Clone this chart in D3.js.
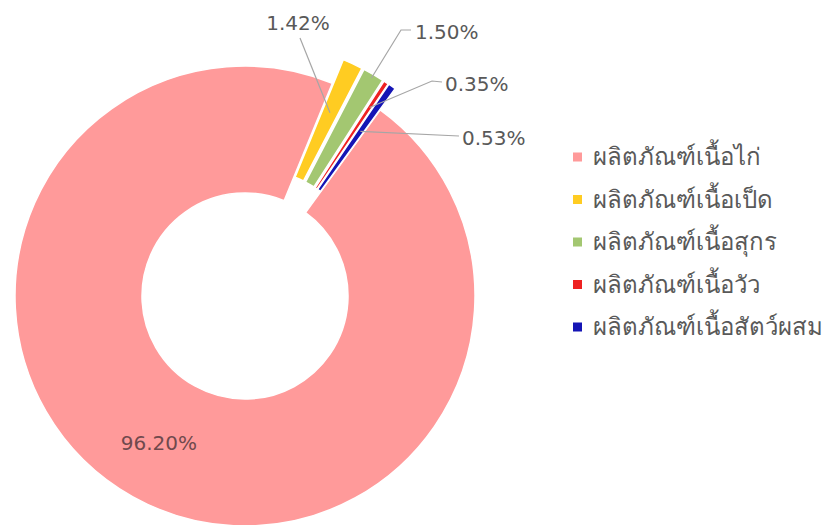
<!DOCTYPE html>
<html>
<head>
<meta charset="utf-8">
<script src="https://cdn.jsdelivr.net/npm/d3@7"></script>
<style>
    body { margin: 0; background: #fff; }
    svg text { font-family: "DejaVu Sans", "Noto Sans", sans-serif; }
</style>
</head>
<body>
<svg id="chart" width="830" height="525"></svg>
<script>
/* global d3 */

// data
let categories = [
    'ผลิตภัณฑ์เนื้อไก่',
    'ผลิตภัณฑ์เนื้อเป็ด',
    'ผลิตภัณฑ์เนื้อสุกร',
    'ผลิตภัณฑ์เนื้อวัว',
    'ผลิตภัณฑ์เนื้อสัตว์ผสม'
];
let shares = [96.20, 1.42, 1.50, 0.35, 0.53];
let colors = ['#ff9a9a', '#ffcc22', '#a3c771', '#ee2222', '#1515b5'];

// layout
let cx = 245, cy = 296;
let outerR = 230, innerR = 103;
let explode = 26;
let firstAngle = 36 * Math.PI / 180;

let svg = d3.select('#chart');

let pie = d3.pie()
    .sort(null)
    .value(d => d.value)
    .startAngle(firstAngle)
    .endAngle(firstAngle + 2 * Math.PI);

let rows = categories.map((c, i) => ({name: c, value: shares[i], color: colors[i], idx: i}));
let arcs = pie(rows);

let arc = d3.arc().innerRadius(innerR).outerRadius(outerR);

let offset = d => {
    if (d.index === 0) return [0, 0];
    let a = (d.startAngle + d.endAngle) / 2;
    return [Math.sin(a) * explode, -Math.cos(a) * explode];
};

let ptAt = (d, r) => {
    let a = (d.startAngle + d.endAngle) / 2;
    let o = offset(d);
    return [cx + o[0] + Math.sin(a) * r, cy + o[1] - Math.cos(a) * r];
};

let g = svg.append('g');

g.selectAll('path.slice')
    .data(arcs)
    .enter()
    .append('path')
    .classed('slice', true)
    .attr('d', arc)
    .attr('transform', d => {
        let o = offset(d);
        return `translate(${cx + o[0]},${cy + o[1]})`;
    })
    .attr('fill', d => d.data.color)
    .attr('stroke', '#fff')
    .attr('stroke-width', 1.5)
    .attr('stroke-linejoin', 'round');

// labels for the small slices: text spot + leader anchor radius
let labelSpots = [
    null,
    {x: 298, y: 23, anchor: 'middle', r: 176, bend: null, start: [300, 38]},
    {x: 415, y: 32, anchor: 'start', r: 226, bend: [401, 30], start: [411, 30]},
    {x: 445, y: 84, anchor: 'start', r: 200, bend: [432, 81], start: [442, 82]},
    {x: 462, y: 138, anchor: 'start', r: 175, bend: null, start: [459, 136]}
];

let fmt = v => v.toFixed(2) + '%';

arcs.forEach(d => {
    let spot = labelSpots[d.index];
    if (!spot) return;
    let end = ptAt(d, spot.r);
    let pts = [spot.start];
    if (spot.bend) pts.push(spot.bend);
    pts.push(end);
    svg.append('path')
        .attr('d', d3.line()(pts))
        .attr('fill', 'none')
        .attr('stroke', '#a6a6a6')
        .attr('stroke-width', 1.2);
    svg.append('text')
        .attr('x', spot.x)
        .attr('y', spot.y)
        .attr('dy', '0.35em')
        .attr('text-anchor', spot.anchor)
        .attr('font-size', 20)
        .attr('fill', '#595959')
        .text(fmt(d.data.value));
});

// big slice label sits on its centroid
let c0 = arc.centroid(arcs[0]);
svg.append('text')
    .attr('x', cx + c0[0] - 5)
    .attr('y', cy + c0[1] + 2)
    .attr('dy', '0.35em')
    .attr('text-anchor', 'middle')
    .attr('font-size', 20)
    .attr('fill', '#70494d')
    .text(fmt(arcs[0].data.value));

// legend
let legend = svg.append('g')
    .attr('transform', 'translate(573,157)');

let item = legend.selectAll('g.item')
    .data(rows)
    .enter()
    .append('g')
    .classed('item', true)
    .attr('transform', (d, i) => `translate(0,${i * 42.5})`);

item.append('rect')
    .attr('x', 0)
    .attr('y', -4.5)
    .attr('width', 9)
    .attr('height', 9)
    .attr('fill', d => d.color);

item.append('text')
    .attr('x', 20)
    .attr('y', 0)
    .attr('dy', '0.35em')
    .attr('font-size', 24)
    .attr('fill', '#595959')
    .text(d => d.name);
</script>
</body>
</html>
